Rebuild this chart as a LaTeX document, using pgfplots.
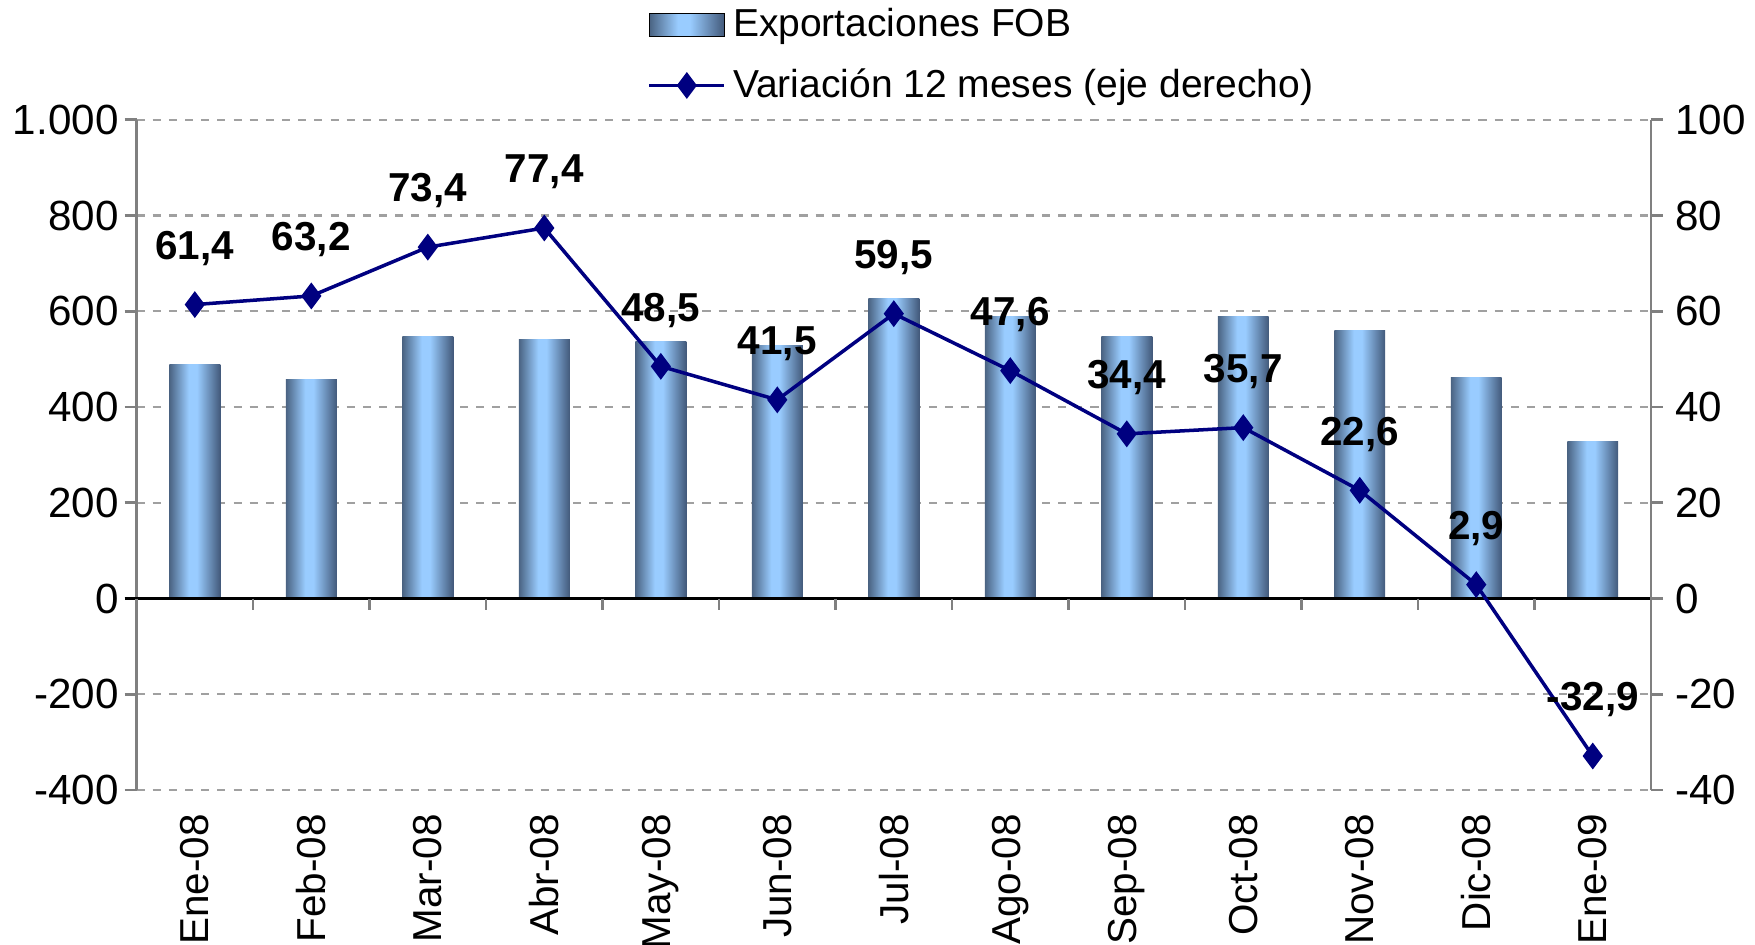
\documentclass[border=0pt]{standalone}
\usepackage{pgfplots}
\pgfplotsset{compat=1.18}
\usepackage{fontspec}
\setmainfont{Liberation Sans}
\definecolor{bardark}{HTML}{4A6382}
\definecolor{bardarkr}{HTML}{42597A}
\definecolor{barlight}{HTML}{99CCFF}
\definecolor{navyline}{HTML}{000080}
\definecolor{gridgray}{HTML}{A0A0A0}
\definecolor{axisgray}{HTML}{808080}
\pgfdeclarehorizontalshading{barshade}{100bp}{color(0bp)=(bardark); color(25bp)=(bardark); color(44bp)=(barlight); color(52bp)=(barlight); color(75bp)=(bardarkr); color(100bp)=(bardarkr)}
\pgfplotsset{mylineleg/.style={legend image code/.code={\draw[mark repeat=2,mark phase=2,##1] plot coordinates {(0pt,0pt) (10.65pt,0pt) (21.3pt,0pt)};}},
  mybar/.style={ybar, bar width=14.5pt, bar shift=0pt, draw=none, shading=barshade}}
\begin{document}
\begin{tikzpicture}
\path[use as bounding box] (-38.86pt,-44.04pt) rectangle (460.5pt,224.78pt);
\begin{axis}[
  scale only axis, width=430.9pt, height=190.7pt,
  xmin=-0.5, xmax=12.5, ymin=-400, ymax=1000,
  axis y line*=left, axis x line*=bottom,
  x axis line style={draw=none},
  y axis line style={axisgray, line width=0.8pt},
  xtick={0,...,12},
  xticklabels={Ene-08,Feb-08,Mar-08,Abr-08,May-08,Jun-08,Jul-08,Ago-08,Sep-08,Oct-08,Nov-08,Dic-08,Ene-09},
  x tick label style={rotate=90, anchor=east, font=\fontsize{11.5}{13}\selectfont},
  xtick style={draw=none},
  ytick={-400,-200,...,1000},
  yticklabels={-400,-200,0,200,400,600,800,1.000},
  y tick label style={font=\fontsize{12}{14}\selectfont, xshift=1.8pt},
  ytick style={axisgray, line width=0.8pt},
  tick align=outside, major tick length=3.4pt,
  ymajorgrids, grid style={gridgray, dash pattern=on 2.3pt off 2.3pt, line width=0.6pt},
  clip=false,
]
\addplot[mybar] coordinates {(0,488)};
\addplot[mybar] coordinates {(1,458)};
\addplot[mybar] coordinates {(2,548)};
\addplot[mybar] coordinates {(3,542)};
\addplot[mybar] coordinates {(4,536)};
\addplot[mybar] coordinates {(5,529)};
\addplot[mybar] coordinates {(6,627)};
\addplot[mybar] coordinates {(7,589)};
\addplot[mybar] coordinates {(8,548)};
\addplot[mybar] coordinates {(9,590)};
\addplot[mybar] coordinates {(10,559)};
\addplot[mybar] coordinates {(11,462)};
\addplot[mybar] coordinates {(12,327)};
\draw[black, line width=0.8pt] ([xshift=-3.4pt]axis cs:-0.5,0) -- ([xshift=3.4pt]axis cs:12.5,0);
\pgfplotsinvokeforeach{-0.5,0.5,1.5,2.5,3.5,4.5,5.5,6.5,7.5,8.5,9.5,10.5,11.5,12.5}{
  \draw[axisgray, line width=0.8pt] (axis cs:#1,0) -- ++(0pt,-3.3pt);
}
\end{axis}
\begin{axis}[
  scale only axis, width=430.9pt, height=190.7pt,
  xmin=-0.5, xmax=12.5, ymin=-40, ymax=100,
  axis y line*=right, axis x line=none,
  y axis line style={axisgray, line width=0.8pt},
  ytick={-40,-20,...,100},
  yticklabels={-40,-20,0,20,40,60,80,100},
  y tick label style={font=\fontsize{12}{14}\selectfont},
  ytick style={axisgray, line width=0.8pt},
  tick align=outside, major tick length=3.4pt,
  clip=false,
  legend style={at={(0.337,1.178)}, anchor=north west, draw=none, fill=none,
    font=\fontsize{11.1}{12.5}\selectfont, row sep=3.6pt, inner sep=0pt},
  legend cell align=left,
]
\addlegendimage{legend image code/.code={\shade[shading=barshade] (0pt,-3.2pt) rectangle (21.3pt,3.2pt);}}
\addlegendentry{Exportaciones FOB}
\addplot[navyline, line width=1pt, mark=diamond*, mark size=3pt, mark options={fill=navyline, solid},
  nodes near coords, point meta=explicit symbolic,
  every node near coord/.style={font=\bfseries\fontsize{11.5}{13}\selectfont, text=black, anchor=center, yshift=16pt},
  mylineleg]
  coordinates {(0,61.4) [61,4] (1,63.2) [63,2] (2,73.4) [73,4] (3,77.4) [77,4] (4,48.5) [48,5] (5,41.5) [41,5] (6,59.5) [59,5] (7,47.6) [47,6] (8,34.4) [34,4] (9,35.7) [35,7] (10,22.6) [22,6] (11,2.9) [2,9] (12,-32.9) [-32,9]};
\addlegendentry{Variación 12 meses (eje derecho)}
\end{axis}
\end{tikzpicture}
\end{document}
